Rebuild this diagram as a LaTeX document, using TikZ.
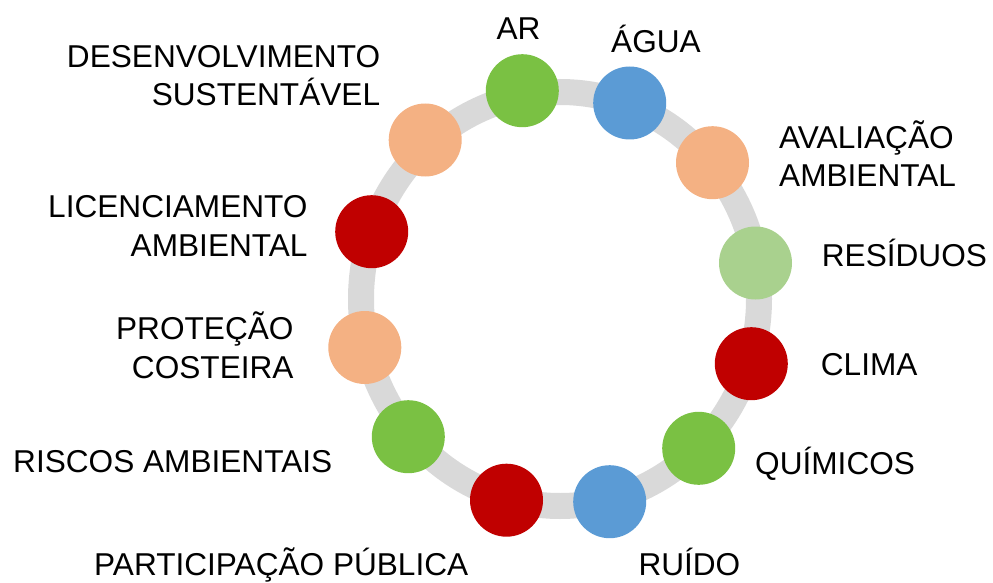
\documentclass[tikz,border=0pt]{standalone}
\usepackage{fontspec}
\setmainfont{Liberation Sans}
\usetikzlibrary{positioning}
\definecolor{ringgray}{HTML}{D9D9D9}
\definecolor{leafgreen}{HTML}{7AC143}
\definecolor{waterblue}{HTML}{5B9BD5}
\definecolor{peach}{HTML}{F4B183}
\definecolor{palegreen}{HTML}{A9D18E}
\definecolor{darkred}{HTML}{C00000}

\begin{document}
\begin{tikzpicture}[x=1pt,y=-1pt,
  dot/.style={circle,fill=#1,minimum size=73pt,inner sep=0pt},
  lbl/.style={font=\fontsize{31.6}{38.7}\selectfont,inner sep=0pt}]
\useasboundingbox (0,0) rectangle (993,583);
% the ring
\draw[ringgray,line width=26pt] (560,299) ellipse [x radius=199, y radius=207];
% the twelve themes
\foreach \name/\x/\y/\col in {ar/522.3/90.7/leafgreen, agua/629.7/103/waterblue,
    aval/712.5/162.7/peach, res/755.5/263/palegreen, clima/751.3/363.7/darkred,
    quim/698.7/448.3/leafgreen, ruido/609.7/501.7/waterblue, partic/506.5/500.2/darkred,
    riscos/408.3/436.7/leafgreen, prot/364.8/347.5/peach, lic/371.7/231.7/darkred,
    desenv/425.2/140/peach}
  \node[dot=\col] (\name) at (\x,\y) {};
% labels
\node[lbl,anchor=base] (arlbl) at (518.5,40) {AR};
\node[lbl,anchor=base] (agualbl) at (656,52.7) {ÁGUA};
\node[lbl,anchor=base west,align=left] (avallbl) at (779,186.7) {AVALIAÇÃO\\AMBIENTAL};
\node[lbl,anchor=base west] (reslbl) at (821.7,266.7) {RESÍDUOS};
\node[lbl,anchor=base west] (climalbl) at (820.7,375.5) {CLIMA};
\node[lbl,anchor=base west] (quimlbl) at (755,474.7) {QUÍMICOS};
\node[lbl,anchor=base west] (ruidolbl) at (638.3,575.5) {RUÍDO};
\node[lbl,anchor=base west] (particlbl) at (94,575.5) {PARTICIPAÇÃO PÚBLICA};
\node[lbl,anchor=base west] (riscoslbl) at (13,472.7) {RISCOS AMBIENTAIS};
\node[lbl,anchor=base east,align=right] (protlbl) at (293.7,378.3) {PROTEÇÃO\\COSTEIRA};
\node[lbl,anchor=base east,align=right] (liclbl) at (307.7,256) {LICENCIAMENTO\\AMBIENTAL};
\node[lbl,anchor=base east,align=right] (desenvlbl) at (380.3,106) {DESENVOLVIMENTO\\SUSTENTÁVEL};
\end{tikzpicture}
\end{document}
